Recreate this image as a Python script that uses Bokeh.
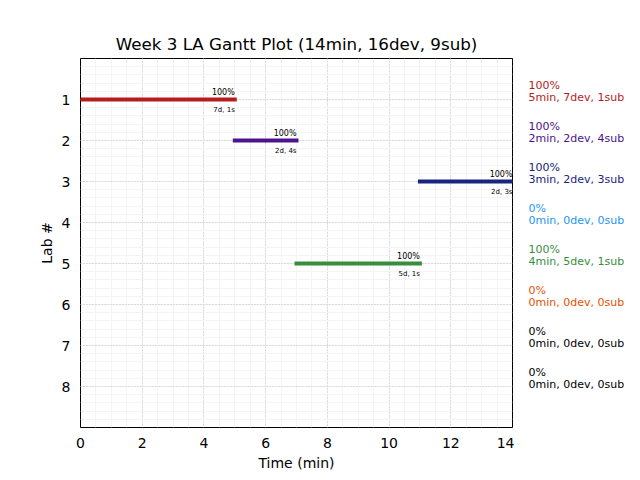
import numpy as np
from bokeh.plotting import figure
from bokeh.layouts import row
from bokeh.models import Range1d, FixedTicker, ColumnDataSource
from bokeh.embed import file_html
from bokeh.resources import INLINE

# ---- data ----
labs = [1, 2, 3, 4, 5, 6, 7, 8]
pct = [100, 100, 100, 0, 100, 0, 0, 0]
minutes = [5, 2, 3, 0, 4, 0, 0, 0]
devs = [7, 2, 2, 0, 5, 0, 0, 0]
subs = [1, 4, 3, 0, 1, 0, 0, 0]
colors = ["#b71c1c", "#4a148c", "#1a237e", "#2196f3", "#388e3c", "#e65100", "#000000", "#000000"]

bar_labs = [1, 2, 3, 5]
bar_start = [0, 5, 11, 7]
bar_end = [5, 7, 14, 11]
bar_pct = [100, 100, 100, 100]
bar_devs = [7, 2, 2, 5]
bar_subs = [1, 4, 3, 1]
bar_colors = ["#b71c1c", "#4a148c", "#1a237e", "#388e3c"]

x_ticks = [0, 2, 4, 6, 8, 10, 12, 14]
y_ticks = [1, 2, 3, 4, 5, 6, 7, 8]

FONT = "DejaVu Sans"

yr = Range1d(9, 0)
p = figure(
    output_backend="svg", toolbar_location=None,
    frame_width=432, frame_height=369,
    min_border_left=80, min_border_right=2, min_border_top=58, min_border_bottom=53,
    x_range=Range1d(0, 14), y_range=yr,
    title="Week 3 LA Gantt Plot (14min, 16dev, 9sub)",
)
p.title.text_font = FONT
p.title.text_font_size = "16.7px"
p.title.text_font_style = "normal"
p.title.align = "center"
p.title.text_color = "black"

p.outline_line_color = "black"
p.outline_line_width = 1
p.background_fill_color = "white"
p.border_fill_color = "white"

x_minor = list(np.arange(0, 14.01, 0.5))
y_minor = list(np.arange(0, 9.01, 0.2))
p.xaxis.ticker = FixedTicker(ticks=x_ticks, minor_ticks=x_minor)
p.yaxis.ticker = FixedTicker(ticks=y_ticks, minor_ticks=y_minor)
for ax in (p.xaxis[0], p.yaxis[0]):
    ax.major_tick_out = 0
    ax.major_tick_in = 0
    ax.minor_tick_out = 0
    ax.minor_tick_in = 0
    ax.axis_line_color = None
    ax.major_label_text_font = FONT
    ax.major_label_text_font_size = "14px"
    ax.major_label_text_color = "black"
    ax.axis_label_text_font = FONT
    ax.axis_label_text_font_size = "14px"
    ax.axis_label_text_font_style = "normal"
    ax.axis_label_text_color = "black"
p.xaxis.axis_label = "Time (min)"
p.yaxis.axis_label = "Lab #"
p.xaxis.major_label_standoff = 10
p.xaxis.axis_label_standoff = 4
p.yaxis.major_label_standoff = 10
p.yaxis.axis_label_standoff = 4

# grid lines only inside the frame, so the black outline stays solid
p.xgrid[0].ticker = FixedTicker(ticks=x_ticks[1:-1], minor_ticks=x_minor[1:-1])
p.ygrid[0].ticker = FixedTicker(ticks=y_ticks, minor_ticks=y_minor[1:-1])
for g in (p.xgrid[0], p.ygrid[0]):
    g.grid_line_color = "#c4c4c4"
    g.grid_line_dash = "1 2"
    g.grid_line_width = 1
    g.minor_grid_line_color = "#f4f4f4"
    g.minor_grid_line_width = 1

src = ColumnDataSource(dict(
    y=bar_labs, x0=bar_start, x1=bar_end, color=bar_colors,
    ptxt=[f"{v}%" for v in bar_pct],
    dtxt=[f"{d}d, {s}s" for d, s in zip(bar_devs, bar_subs)],
))
p.segment(x0="x0", y0="y", x1="x1", y1="y", line_color="color", line_width=4,
          line_cap="square", source=src)
p.text(x="x1", y="y", text="ptxt", text_align="right", text_baseline="middle",
       y_offset=-7, text_font_size="8px", text_color="black", source=src,
       text_font={"value": FONT})
p.text(x="x1", y="y", text="dtxt", text_align="right", text_baseline="middle",
       y_offset=10, text_font_size="7px", text_color="black", source=src,
       text_font={"value": FONT})

# right-hand summary panel sharing the y range
side_src = ColumnDataSource(dict(
    y=labs, color=colors,
    ptxt=[f"{v}%" for v in pct],
    dtxt=[f"{m}min, {d}dev, {s}sub" for m, d, s in zip(minutes, devs, subs)],
))
q = figure(
    output_backend="svg", toolbar_location=None,
    frame_width=126, frame_height=369,
    min_border_left=0, min_border_right=0, min_border_top=58, min_border_bottom=53,
    x_range=Range1d(0, 126), y_range=yr,
)
q.axis.visible = False
q.grid.visible = False
q.outline_line_color = None
q.background_fill_color = "white"
q.border_fill_color = "white"
q.text(x=14, y="y", text="ptxt", text_align="left", text_baseline="middle",
       y_offset=-14, text_font_size="11px", text_color="color", source=side_src,
       text_font={"value": FONT})
q.text(x=14, y="y", text="dtxt", text_align="left", text_baseline="middle",
       y_offset=-2, text_font_size="11px", text_color="color", source=side_src,
       text_font={"value": FONT})

layout = row(p, q, spacing=0)
open("out.html", "w").write(file_html(layout, INLINE))
